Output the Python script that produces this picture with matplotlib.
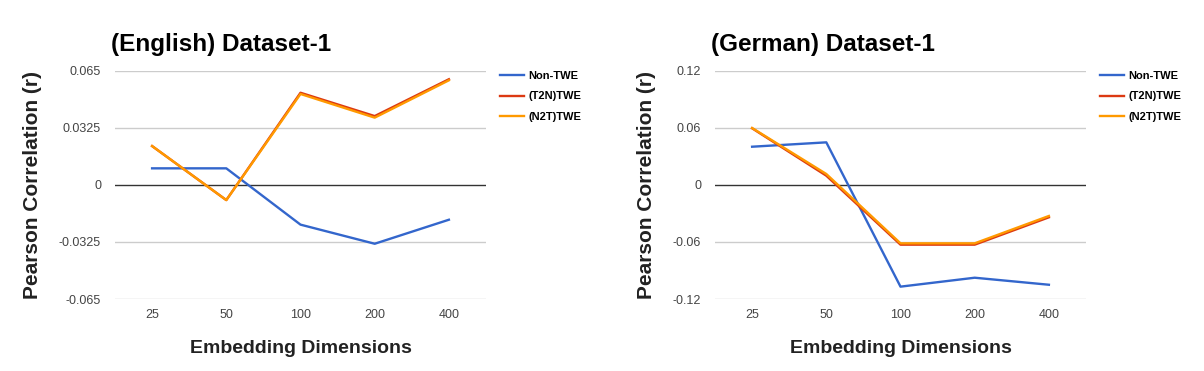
import matplotlib.pyplot as plt

plt.rcParams['font.family'] = ['Liberation Sans', 'DejaVu Sans']

dims = ['25', '50', '100', '200', '400']

# English dataset
en_non_twe = [0.0095, 0.0095, -0.0226, -0.0335, -0.0198]
en_t2n = [0.0222, -0.0086, 0.0526, 0.0393, 0.0603]
en_n2t = [0.0222, -0.0086, 0.0519, 0.0384, 0.0597]
en_ticks = [-0.065, -0.0325, 0, 0.0325, 0.065]
en_ticklabels = ['-0.065', '-0.0325', '0', '0.0325', '0.065']

# German dataset
de_non_twe = [0.0403, 0.0449, -0.107, -0.0976, -0.105]
de_t2n = [0.0597, 0.0098, -0.0628, -0.0628, -0.034]
de_n2t = [0.0600, 0.0116, -0.0614, -0.0614, -0.0326]
de_ticks = [-0.12, -0.06, 0, 0.06, 0.12]
de_ticklabels = ['-0.12', '-0.06', '0', '0.06', '0.12']

colors = {'Non-TWE': '#3366cc', '(T2N)TWE': '#dc3912', '(N2T)TWE': '#ff9900'}

fig = plt.figure(figsize=(12.04, 3.71), dpi=100)
W, H = 1204, 371


def draw(left, title, non, t2n, n2t, ticks, ticklabels):
    ax = fig.add_axes([left / W, (H - 299) / H, 371 / W, 228 / H])
    x = range(len(dims))
    ax.plot(x, non, color=colors['Non-TWE'], lw=1.7, label='Non-TWE')
    ax.plot(x, t2n, color=colors['(T2N)TWE'], lw=1.7, label='(T2N)TWE')
    ax.plot(x, n2t, color=colors['(N2T)TWE'], lw=1.7, label='(N2T)TWE')
    ax.set_xlim(-0.5, len(dims) - 0.5)
    ax.set_ylim(ticks[0], ticks[-1])
    ax.set_yticks(ticks)
    ax.set_yticklabels(ticklabels)
    ax.set_xticks(list(x))
    ax.set_xticklabels(dims)
    for t in ticks:
        if t == 0:
            ax.axhline(0, color='#333333', lw=1, zorder=1)
        else:
            ax.axhline(t, color='#cccccc', lw=1, zorder=0)
    for s in ax.spines.values():
        s.set_visible(False)
    ax.tick_params(length=0, labelsize=9, labelcolor='#444444', pad=10)
    ax.tick_params(axis='x', pad=7)
    ax.set_xlabel('Embedding Dimensions', fontsize=14, fontweight='bold',
                  color='#222222', labelpad=14)
    ax.set_ylabel('Pearson Correlation (r)', fontsize=15, fontweight='bold',
                  color='#222222', labelpad=12)
    fig.text((left - 4) / W, (H - 44) / H, title, fontsize=17.5,
             fontweight='bold', va='center', ha='left')
    ax.legend(loc='upper left', bbox_to_anchor=(1.025, 1.02), frameon=False,
              prop={'weight': 'bold', 'size': 8}, handlelength=2.2,
              labelspacing=0.95, handletextpad=0.35, borderaxespad=0)
    return ax


draw(115, '(English) Dataset-1', en_non_twe, en_t2n, en_n2t, en_ticks, en_ticklabels)
draw(715, '(German) Dataset-1', de_non_twe, de_t2n, de_n2t, de_ticks, de_ticklabels)

fig.savefig('out.png', dpi=100)
